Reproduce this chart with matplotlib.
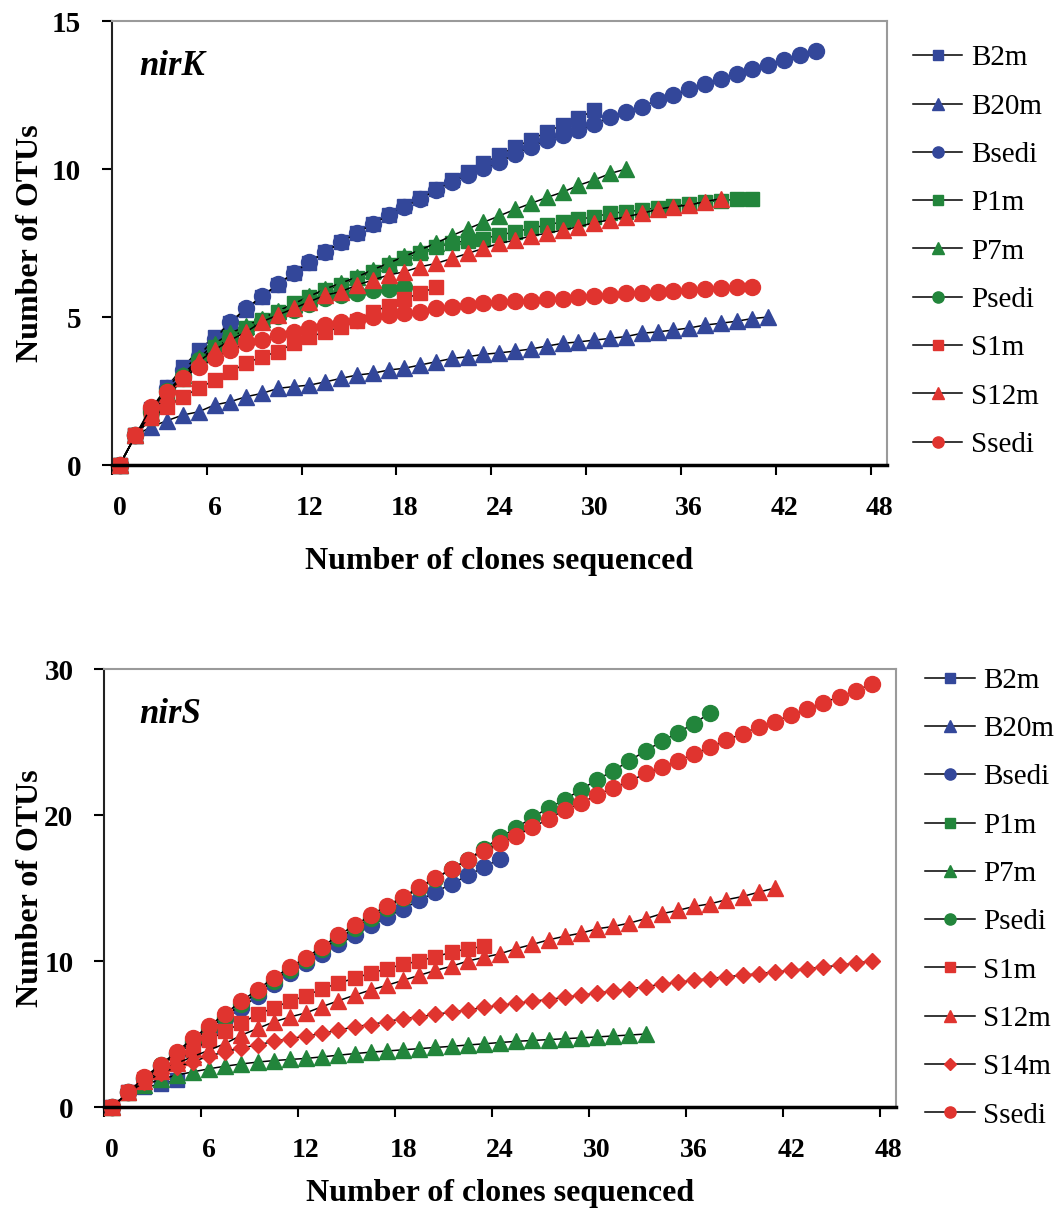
import numpy as np
import matplotlib
matplotlib.use("Agg")
import matplotlib.pyplot as plt
from matplotlib.lines import Line2D

plt.rcParams['font.family'] = ['Liberation Serif', 'DejaVu Serif']

# ---- nirK rarefaction curves (value at 0, 1, 2, ... clones) ----
k_B2m = [0, 1.0, 1.9, 2.65, 3.3, 3.89, 4.33, 4.8, 5.25, 5.68, 6.08, 6.48, 6.84, 7.2, 7.52, 7.85,
         8.15, 8.45, 8.75, 9.02, 9.32, 9.62, 9.9, 10.19, 10.47, 10.75, 10.98, 11.26, 11.49, 11.71, 12.0]
k_B20m = [0, 1.0, 1.29, 1.50, 1.69, 1.80, 2.03, 2.14, 2.31, 2.42, 2.59, 2.65, 2.70, 2.81, 2.93, 3.04,
          3.10, 3.21, 3.27, 3.38, 3.49, 3.60, 3.66, 3.74, 3.79, 3.85, 3.92, 4.02, 4.11, 4.16, 4.22,
          4.28, 4.34, 4.45, 4.50, 4.56, 4.63, 4.73, 4.79, 4.86, 4.95, 5.0]
k_Bsedi = [0, 1.0, 1.9, 2.6, 3.2, 3.7, 4.25, 4.84, 5.29, 5.71, 6.10, 6.50, 6.85, 7.21, 7.52, 7.85,
           8.14, 8.45, 8.73, 8.98, 9.29, 9.57, 9.80, 10.02, 10.23, 10.51, 10.75, 10.98, 11.15, 11.32,
           11.51, 11.75, 11.94, 12.11, 12.33, 12.50, 12.69, 12.86, 13.04, 13.21, 13.38, 13.51, 13.68,
           13.85, 14.0]
k_P1m = [0, 1, 1.6, 2.3, 2.9, 3.45, 4.0, 4.33, 4.62, 4.90, 5.18, 5.46, 5.69, 5.91, 6.08, 6.31, 6.53,
         6.76, 6.98, 7.18, 7.36, 7.5, 7.58, 7.65, 7.77, 7.88, 8.0, 8.11, 8.22, 8.30, 8.39, 8.50, 8.56,
         8.61, 8.70, 8.75, 8.82, 8.90, 8.93, 8.98, 9.0]
k_P7m = [0, 1, 1.75, 2.45, 3.05, 3.6, 4.1, 4.45, 4.7, 4.95, 5.2, 5.45, 5.7, 5.95, 6.15, 6.35, 6.6,
         6.82, 7.05, 7.27, 7.5, 7.75, 7.98, 8.2, 8.42, 8.64, 8.84, 9.04, 9.22, 9.45, 9.63, 9.85, 10.0]
k_Psedi = [0, 1, 1.8, 2.5, 3.0, 3.56, 3.94, 4.3, 4.6, 4.85, 5.05, 5.25, 5.45, 5.63, 5.74, 5.82, 5.9,
           5.96, 6.0]
k_S1m = [0, 1, 1.6, 1.95, 2.31, 2.59, 2.87, 3.15, 3.44, 3.66, 3.83, 4.11, 4.33, 4.50, 4.67, 4.87,
         5.18, 5.37, 5.6, 5.82, 6.0]
k_S12m = [0, 1, 1.75, 2.4, 2.95, 3.5, 3.89, 4.22, 4.5, 4.84, 5.07, 5.29, 5.52, 5.74, 5.86, 6.08, 6.25,
          6.42, 6.53, 6.70, 6.81, 6.98, 7.15, 7.32, 7.49, 7.6, 7.74, 7.83, 7.94, 8.05, 8.19, 8.28,
          8.39, 8.50, 8.64, 8.73, 8.78, 8.9, 9.0]
k_Ssedi = [0, 1, 1.97, 2.48, 2.93, 3.32, 3.60, 3.89, 4.11, 4.22, 4.39, 4.5, 4.62, 4.73, 4.84, 4.9,
           5.0, 5.07, 5.12, 5.18, 5.29, 5.35, 5.41, 5.46, 5.52, 5.53, 5.55, 5.6, 5.62, 5.67, 5.71,
           5.73, 5.8, 5.82, 5.86, 5.89, 5.91, 5.96, 5.98, 6.0, 6.0]

# ---- nirS rarefaction curves ----
s_B2m = [0, 1, 1.35, 1.57, 1.85]
s_Bsedi = [0, 1, 1.95, 2.8, 3.6, 4.4, 5.2, 6.0, 6.8, 7.6, 8.45, 9.2, 9.9, 10.5, 11.15, 11.76, 12.44,
           13.0, 13.58, 14.15, 14.72, 15.29, 15.86, 16.43, 17.0]
s_P7m = [0, 1, 1.5, 1.9, 2.19, 2.41, 2.62, 2.8, 2.95, 3.08, 3.18, 3.26, 3.33, 3.44, 3.55, 3.66, 3.76,
         3.84, 3.92, 4.0, 4.08, 4.16, 4.25, 4.33, 4.42, 4.5, 4.56, 4.62, 4.68, 4.74, 4.8, 4.87, 4.93, 5.0]
s_Psedi = [0, 1, 2.0, 2.85, 3.7, 4.55, 5.4, 6.2, 7.05, 7.85, 8.65, 9.4, 10.1, 10.8, 11.55, 12.25,
           12.95, 13.65, 14.3, 15.0, 15.65, 16.3, 16.95, 17.7, 18.48, 19.12, 19.84, 20.49, 21.05,
           21.74, 22.42, 23.03, 23.72, 24.4, 25.04, 25.65, 26.27, 27.0]
s_S1m = [0, 1, 1.9, 2.6, 3.2, 3.9, 4.6, 5.2, 5.75, 6.35, 6.8, 7.25, 7.62, 8.1, 8.48, 8.83, 9.16,
         9.48, 9.77, 10.0, 10.3, 10.6, 10.85, 11.0]
s_S12m = [0, 1, 1.75, 2.45, 3.0, 3.45, 3.9, 4.35, 4.92, 5.38, 5.83, 6.17, 6.45, 6.88, 7.28, 7.66,
          8.02, 8.34, 8.68, 9.02, 9.36, 9.64, 10.0, 10.25, 10.5, 10.85, 11.14, 11.45, 11.7, 11.91,
          12.21, 12.37, 12.6, 12.9, 13.24, 13.47, 13.74, 13.92, 14.2, 14.42, 14.72, 15.0]
s_S14m = [0, 1, 1.7, 2.3, 2.75, 3.1, 3.5, 3.78, 4.05, 4.25, 4.5, 4.69, 4.85, 5.05, 5.26, 5.5, 5.65,
          5.85, 6.06, 6.17, 6.35, 6.5, 6.65, 6.82, 6.97, 7.1, 7.25, 7.36, 7.52, 7.66, 7.8, 7.95, 8.08,
          8.25, 8.4, 8.55, 8.68, 8.8, 8.93, 9.02, 9.14, 9.25, 9.36, 9.48, 9.59, 9.71, 9.86, 10.0]
s_Ssedi = [0, 1, 2.05, 2.9, 3.8, 4.7, 5.55, 6.4, 7.25, 8.05, 8.85, 9.56, 10.24, 10.98, 11.76, 12.44,
           13.12, 13.8, 14.38, 15.06, 15.7, 16.3, 16.93, 17.57, 18.07, 18.59, 19.16, 19.73, 20.35,
           20.8, 21.39, 21.85, 22.3, 22.85, 23.26, 23.72, 24.18, 24.63, 25.13, 25.58, 26.04, 26.4,
           26.86, 27.25, 27.7, 28.1, 28.5, 29.0]

x_ticklabels = ['0', '6', '12', '18', '24', '30', '36', '42', '48']

BLUE = '#33479a'
GREEN = '#22853b'
RED = '#e0342f'

# name -> marker, colour  (drawing order = legend order)
style = {
    'B2m': ('s', BLUE), 'B20m': ('^', BLUE), 'Bsedi': ('o', BLUE),
    'P1m': ('s', GREEN), 'P7m': ('^', GREEN), 'Psedi': ('o', GREEN),
    'S1m': ('s', RED), 'S12m': ('^', RED), 'S14m': ('D', RED), 'Ssedi': ('o', RED),
}
msize = {'s': 10.5, '^': 11.5, 'o': 11.5, 'D': 8.5}

nirK = [('B2m', k_B2m), ('B20m', k_B20m), ('Bsedi', k_Bsedi), ('P1m', k_P1m), ('P7m', k_P7m),
        ('Psedi', k_Psedi), ('S1m', k_S1m), ('S12m', k_S12m), ('Ssedi', k_Ssedi)]
nirS = [('B2m', s_B2m), ('B20m', None), ('Bsedi', s_Bsedi), ('P1m', None), ('P7m', s_P7m),
        ('Psedi', s_Psedi), ('S1m', s_S1m), ('S12m', s_S12m), ('S14m', s_S14m), ('Ssedi', s_Ssedi)]


def draw_panel(ax, series, ymax, ystep, tag, tag_x, leg_xy, ylab_x, xlab_y):
    for name, vals in series:
        if vals is None:
            continue
        m, c = style[name]
        ax.plot(np.arange(len(vals)), vals, color='black', lw=1.1, marker=m, ms=msize[m],
                mfc=c, mec=c, clip_on=False)

    # category style x axis: labels on categories, marks between them
    ax.set_xlim(-0.5, 48.5)
    ax.set_xticks(np.arange(0, 49, 6))
    ax.set_xticklabels(x_ticklabels)
    ax.set_xticks(np.arange(-0.5, 48, 6), minor=True)
    ax.tick_params(axis='x', which='major', length=0, pad=22, labelsize=20)
    ax.tick_params(axis='x', which='minor', length=7, width=1.5, direction='out')
    ax.set_ylim(0, ymax)
    ax.set_yticks(np.arange(0, ymax + 1, ystep))
    ax.tick_params(axis='y', length=7, width=1.5, direction='out', pad=15, labelsize=21)
    for lab in ax.get_xticklabels() + ax.get_yticklabels():
        lab.set_fontweight('bold')

    ax.spines['top'].set_color('#9a9a9a')
    ax.spines['right'].set_color('#9a9a9a')
    ax.spines['top'].set_linewidth(1.5)
    ax.spines['right'].set_linewidth(1.5)
    ax.spines['left'].set_color('#222222')
    ax.spines['left'].set_linewidth(1.5)
    ax.spines['bottom'].set_linewidth(2.5)

    ax.set_xlabel('Number of clones sequenced', fontsize=23, fontweight='bold')
    ax.xaxis.set_label_coords(0.5, xlab_y)
    ax.set_ylabel('Number of OTUs', fontsize=23, fontweight='bold')
    ax.yaxis.set_label_coords(ylab_x, 0.5)
    ax.text(tag_x, 0.935, tag, transform=ax.transAxes, fontsize=25, fontweight='bold',
            fontstyle='italic', va='top')

    handles = []
    for name, vals in series:
        m, c = style[name]
        handles.append(Line2D([], [], color='black', lw=1.1, marker=m, ms=msize[m] * 0.7,
                              mfc=c, mec=c, label=name))
    ax.figure.legend(handles=handles, loc='upper left', bbox_to_anchor=leg_xy, frameon=False,
                     fontsize=21, handlelength=1.7, handletextpad=0.3, labelspacing=0.75,
                     borderpad=0, borderaxespad=0)


fig = plt.figure(figsize=(10.59, 12.18), dpi=100)
ax1 = fig.add_axes([0.1055, 0.6182, 0.732, 0.3645])
ax2 = fig.add_axes([0.0982, 0.0911, 0.748, 0.3596])

draw_panel(ax1, nirK, 15, 5, 'nirK', 0.036, (0.862, 0.963), -0.086, -0.185)
draw_panel(ax2, nirS, 30, 10, 'nirS', 0.045, (0.8735, 0.452), -0.075, -0.164)

fig.savefig('out.png', dpi=100)
